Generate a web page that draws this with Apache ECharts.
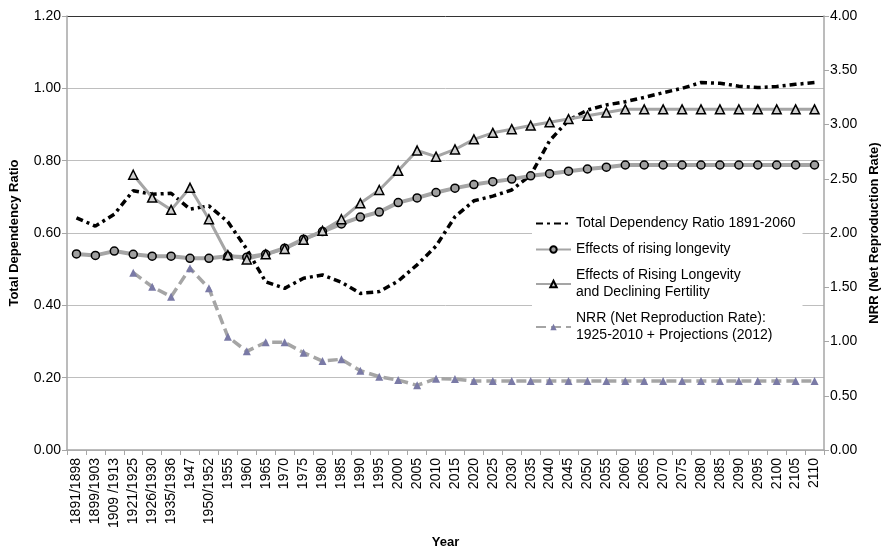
<!DOCTYPE html>
<html>
<head>
<meta charset="utf-8">
<script src="https://cdn.jsdelivr.net/npm/echarts@6/dist/echarts.min.js"></script>
<style>html,body{margin:0;padding:0;background:#fff;}#c{width:889px;height:552px;}</style>
</head>
<body>
<div id="c"></div>
<script>
var categories = ['1891/1898','1899/1903','1909 /1913','1921/1925','1926/1930','1935/1936','1947','1950/1952',
  '1955','1960','1965','1970','1975','1980','1985','1990','1995','2000','2005','2010','2015','2020','2025','2030',
  '2035','2040','2045','2050','2055','2060','2065','2070','2075','2080','2085','2090','2095','2100','2105','2110'];

var totalDependency = [0.642,0.619,0.652,0.717,0.707,0.710,0.666,0.675,0.631,0.555,
  0.465,0.447,0.475,0.484,0.464,0.433,0.438,0.467,0.512,0.564,
  0.645,0.689,0.702,0.719,0.760,0.855,0.912,0.940,0.954,0.963,
  0.975,0.988,1.000,1.016,1.014,1.006,1.002,1.005,1.011,1.016];

var risingLongevity = [0.542,0.538,0.550,0.541,0.536,0.536,0.530,0.530,0.536,0.533,
  0.541,0.558,0.583,0.604,0.625,0.644,0.658,0.684,0.697,0.712,
  0.724,0.734,0.742,0.749,0.758,0.764,0.771,0.777,0.782,0.788,
  0.788,0.788,0.788,0.788,0.788,0.788,0.788,0.788,0.788,0.788];

var longevityFertility = [null,null,null,0.761,0.698,0.664,0.725,0.638,0.539,0.527,
  0.541,0.556,0.581,0.606,0.638,0.682,0.719,0.772,0.828,0.811,
  0.831,0.859,0.877,0.887,0.897,0.906,0.915,0.924,0.933,0.942,
  0.942,0.942,0.942,0.942,0.942,0.942,0.942,0.942,0.942,0.942];

var nrr = [null,null,null,1.634,1.505,1.413,1.675,1.490,1.044,0.909,
  0.992,0.992,0.897,0.820,0.836,0.731,0.676,0.645,0.596,0.657,
  0.654,0.635,0.635,0.635,0.635,0.635,0.635,0.635,0.635,0.635,
  0.635,0.635,0.635,0.635,0.635,0.635,0.635,0.635,0.635,0.635];

var seriesNames = ['Total Dependency Ratio 1891-2060','Effects of rising longevity',
  'Effects of Rising Longevity\nand Declining Fertility','NRR (Net Reproduction Rate):\n1925-2010 + Projections (2012)'];

var FONT = 'Liberation Sans, Arial, sans-serif';
var AX = '#A6A6A6';
var GRAY = '#A5A5A5';
var GRID_COLORS = ['#BEBEBE','#BEBEBE','#BEBEBE','#BEBEBE','#BEBEBE','#BEBEBE','#333333'];

var chart = echarts.init(document.getElementById('c'), null, {renderer:'canvas'});
chart.setOption({
  animation: false,
  backgroundColor: '#fff',
  textStyle: {fontFamily: FONT},
  grid: {left: 67, right: 65, top: 16, bottom: 102, containLabel: false, outerBoundsMode: 'none'},
  legend: {
    orient: 'vertical', left: 532, top: 209,
    backgroundColor: '#fff',
    padding: [6, 7, 8, 3],
    itemWidth: 35, itemHeight: 8, itemGap: 9,
    textStyle: {fontFamily: FONT, fontSize: 14, color: '#000', lineHeight: 17},
    data: [
      {name: seriesNames[0], itemStyle: {color: 'rgba(0,0,0,0)', borderColor: 'rgba(0,0,0,0)', borderWidth: 0}},
      {name: seriesNames[1]},
      {name: seriesNames[2]},
      {name: seriesNames[3]}
    ]
  },
  xAxis: [{
    type: 'category', data: categories, boundaryGap: true,
    name: 'Year', nameLocation: 'middle', nameGap: 85,
    nameTextStyle: {fontFamily: FONT, fontSize: 13, fontWeight: 'bold', color: '#000'},
    axisLine: {lineStyle: {color: AX, width: 1.5}},
    axisTick: {show: true, alignWithLabel: false, length: 5, lineStyle: {color: AX}},
    axisLabel: {interval: 0, rotate: 90, fontFamily: FONT, fontSize: 14, color: '#000', margin: 8}
  }],
  yAxis: [{
    type: 'value', min: 0, max: 1.2, interval: 0.2, position: 'left',
    name: 'Total Dependency Ratio', nameLocation: 'middle', nameGap: 46,
    nameTextStyle: {fontFamily: FONT, fontSize: 13, fontWeight: 'bold', color: '#000'},
    axisLine: {show: true, lineStyle: {color: AX, width: 1.5}},
    axisTick: {show: true, length: 5, lineStyle: {color: AX}},
    axisLabel: {formatter: function(v){return v.toFixed(2);}, fontFamily: FONT, fontSize: 14, color: '#000', margin: 6},
    splitLine: {show: true, showMinLine: true, showMaxLine: true, lineStyle: {color: GRID_COLORS, width: 1}}
  }, {
    type: 'value', min: 0, max: 4, interval: 0.5, position: 'right',
    name: 'NRR (Net Reproduction Rate)', nameLocation: 'middle', nameGap: 44,
    nameTextStyle: {fontFamily: FONT, fontSize: 13, fontWeight: 'bold', color: '#000'},
    axisLine: {show: true, lineStyle: {color: AX, width: 1.5}},
    axisTick: {show: true, length: 5, lineStyle: {color: AX}},
    axisLabel: {formatter: function(v){return v.toFixed(2);}, fontFamily: FONT, fontSize: 14, color: '#000', margin: 6},
    splitLine: {show: false}
  }],
  series: [{
    name: seriesNames[0], type: 'line', data: totalDependency, yAxisIndex: 0,
    symbol: 'none', smooth: false,
    lineStyle: {color: '#000', width: 3.5, type: [7, 4, 3, 4], cap: 'butt'},
    itemStyle: {color: '#000'}
  }, {
    name: seriesNames[1], type: 'line', data: risingLongevity, yAxisIndex: 0,
    symbol: 'circle', symbolSize: 8,
    lineStyle: {color: GRAY, width: 4},
    itemStyle: {color: '#A0A0A0', borderColor: '#000', borderWidth: 1.5}
  }, {
    name: seriesNames[2], type: 'line', data: longevityFertility, yAxisIndex: 0,
    symbol: 'triangle', symbolSize: 9,
    lineStyle: {color: GRAY, width: 3},
    itemStyle: {color: '#D0D0D0', borderColor: '#000', borderWidth: 1.5}
  }, {
    name: seriesNames[3], type: 'line', data: nrr, yAxisIndex: 1,
    symbol: 'triangle', symbolSize: 8,
    lineStyle: {color: GRAY, width: 3.5, type: [10, 5]},
    itemStyle: {color: '#7A7AA6', borderWidth: 0}
  }]
});
</script>
</body>
</html>
